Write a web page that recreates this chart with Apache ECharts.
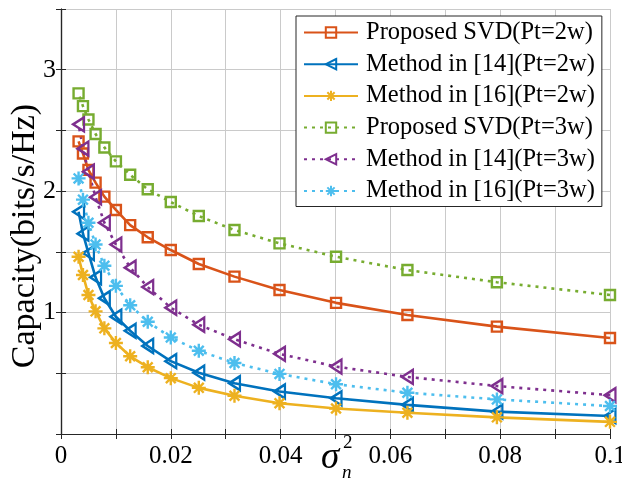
<!DOCTYPE html>
<html>
<head>
<meta charset="utf-8">
<script src="https://cdn.jsdelivr.net/npm/echarts@6/dist/echarts.min.js"></script>
<style>html,body{margin:0;padding:0;background:#fff}#c{width:622px;height:481px}</style>
</head>
<body>
<div id="c"></div>
<script>
const noiseVar = [0.1, 0.0794, 0.0631, 0.0501, 0.0398, 0.0316, 0.0251, 0.0200, 0.0158, 0.0126, 0.0100, 0.0079, 0.0063, 0.0050, 0.0040, 0.0032];
const svd2 = [0.79, 0.884, 0.98, 1.08, 1.186, 1.296, 1.40, 1.515, 1.62, 1.72, 1.845, 1.955, 2.07, 2.175, 2.31, 2.41];
const m14_2 = [0.148, 0.184, 0.24, 0.294, 0.35, 0.418, 0.505, 0.60, 0.725, 0.85, 0.966, 1.118, 1.29, 1.49, 1.65, 1.83];
const m16_2 = [0.10, 0.137, 0.175, 0.21, 0.253, 0.315, 0.38, 0.46, 0.55, 0.64, 0.75, 0.87, 1.01, 1.145, 1.31, 1.46];
const svd3 = [1.145, 1.25, 1.35, 1.46, 1.57, 1.68, 1.795, 1.91, 2.015, 2.135, 2.245, 2.36, 2.47, 2.59, 2.70, 2.805];
const m14_3 = [0.32, 0.395, 0.47, 0.555, 0.66, 0.78, 0.90, 1.04, 1.21, 1.37, 1.56, 1.74, 1.95, 2.16, 2.35, 2.55];
const m16_3 = [0.23, 0.285, 0.34, 0.41, 0.495, 0.585, 0.685, 0.795, 0.925, 1.06, 1.22, 1.385, 1.56, 1.74, 1.93, 2.105];
const seriesNames = ['Proposed SVD(Pt=2w)', 'Method in [14](Pt=2w)', 'Method in [16](Pt=2w)', 'Proposed SVD(Pt=3w)', 'Method in [14](Pt=3w)', 'Method in [16](Pt=3w)'];
const xTickLabels = ['0', '0.02', '0.04', '0.06', '0.08', '0.1'];
const yTickLabels = ['1', '2', '3'];
const yTitle = 'Capacity(bits/s/Hz)';

const FONT = "'Liberation Serif','Times New Roman',serif";
const SQ = 'path://M0,0L10,0L10,10L0,10Z';
const TRI = 'path://M10,0L0,5.5L10,11Z';
const AST = 'path://M5,0L5,10M0,5L10,5M1.5,1.5L8.5,8.5M8.5,1.5L1.5,8.5';
const styles = [
  {c:'#D95319', sym:SQ, size:10, type:'solid'},
  {c:'#0072BD', sym:TRI, size:[12,14], type:'solid'},
  {c:'#EDB120', sym:AST, size:14, type:'solid'},
  {c:'#77AC30', sym:SQ, size:10, type:[3,5]},
  {c:'#7E2F8E', sym:TRI, size:[12,14], type:[3,5]},
  {c:'#4DBEEE', sym:AST, size:14, type:[3,5]}
];
const vals = [svd2, m14_2, m16_2, svd3, m14_3, m16_3];

const series = vals.map((v, i) => ({
  name: seriesNames[i],
  type: 'line',
  data: noiseVar.map((x, j) => [x, v[j]]),
  color: styles[i].c,
  symbol: styles[i].sym,
  symbolSize: styles[i].size,
  symbolKeepAspect: true,
  showAllSymbol: true,
  lineStyle: {color: styles[i].c, width: 2.6, type: styles[i].type},
  itemStyle: {color: 'rgba(255,255,255,0)', borderColor: styles[i].c, borderWidth: 2.4},
  animation: false
}));

const axisCol = '#262626';
const gridCol = '#cacaca';
const chart = echarts.init(document.getElementById('c'));
chart.setOption({
  animation: false,
  backgroundColor: '#fff',
  grid: {left: 61, right: 12, top: 9, bottom: 47, containLabel: false, outerBoundsMode: 'none'},
  xAxis: [{
    type: 'value', min: 0, max: 0.1, interval: 0.01,
    axisLine: {lineStyle: {color: axisCol, width: 1.2}},
    axisTick: {inside: true, length: 5, lineStyle: {color: axisCol}},
    splitLine: {show: true, lineStyle: {color: gridCol, width: 1}},
    axisLabel: {
      color: '#000', fontFamily: FONT, fontSize: 25, margin: 10, hideOverlap: false,
      formatter: v => {
        const k = Math.round(v * 100);
        if (k % 2 !== 0) return '';
        return xTickLabels[k / 2];
      }
    }
  }, {
    type: 'value', min: 0, max: 0.1, interval: 0.01, position: 'top',
    axisLine: {show: true, lineStyle: {color: axisCol, width: 1.2}},
    axisTick: {inside: true, length: 5, lineStyle: {color: axisCol}},
    axisLabel: {show: false}, splitLine: {show: false}
  }],
  yAxis: [{
    type: 'value', min: 0, max: 3.5, interval: 0.5,
    axisLine: {show: true, lineStyle: {color: axisCol, width: 1.2}},
    axisTick: {show: true, inside: true, length: 5, lineStyle: {color: axisCol}},
    splitLine: {show: true, lineStyle: {color: gridCol, width: 1}},
    axisLabel: {
      color: '#000', fontFamily: FONT, fontSize: 26, margin: 5,
      formatter: v => {
        const i = yTickLabels.indexOf(String(v));
        return i >= 0 ? yTickLabels[i] : '';
      }
    }
  }, {
    type: 'value', min: 0, max: 3.5, interval: 0.5, position: 'right',
    axisLine: {show: true, lineStyle: {color: axisCol, width: 1.2}},
    axisTick: {show: true, inside: true, length: 5, lineStyle: {color: axisCol}},
    axisLabel: {show: false}, splitLine: {show: false}
  }],
  legend: {
    left: 296, top: 16, orient: 'vertical',
    backgroundColor: '#fff', borderColor: '#262626', borderWidth: 1,
    padding: [4, 7, 3, 7], itemGap: 6.7, itemWidth: 54, itemHeight: 13,
    textStyle: {color: '#000', fontFamily: FONT, fontSize: 24.5, lineHeight: 23, padding: [0, 0, 0, 3]},
    data: seriesNames
  },
  graphic: [
    {type: 'text', x: 25, y: 236, rotation: Math.PI / 2,
      style: {text: yTitle, fill: '#000', font: "34px 'Liberation Serif', serif", textAlign: 'center', textVerticalAlign: 'middle'}},
    {type: 'text', left: 321, top: 440, style: {text: 'σ', fill: '#000', font: "italic 37px 'Liberation Serif', serif"}},
    {type: 'text', left: 343, top: 434, style: {text: '2', fill: '#000', font: "19px 'Liberation Serif', serif"}},
    {type: 'text', left: 342, top: 463, style: {text: 'n', fill: '#000', font: "italic 19px 'Liberation Serif', serif"}}
  ],
  series: series
});
</script>
</body>
</html>
